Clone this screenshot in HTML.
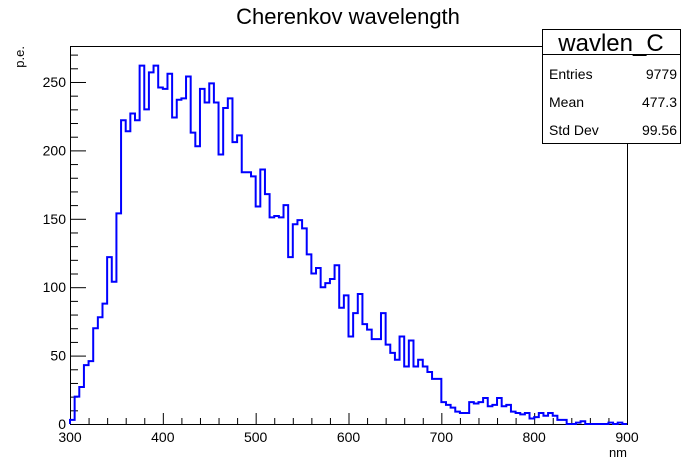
<!DOCTYPE html>
<html><head><meta charset="utf-8"><style>
body{margin:0;background:#fff;}
svg{display:block;font-family:"Liberation Sans",sans-serif;}
</style></head><body>
<svg id="chart" width="696" height="472">
<rect x="0" y="0" width="696" height="472" fill="#fff"/>
<text x="348" y="24" font-size="22" text-anchor="middle">Cherenkov wavelength</text>
<g id="axes"></g>
<path id="hist" fill="none" stroke="#0000ff" stroke-width="2"/>
<text x="627" y="457" font-size="13" text-anchor="end">nm</text>
<text transform="translate(24,46) rotate(-90)" font-size="13" text-anchor="end">p.e.</text>
<g>
<rect x="542.5" y="29.5" width="138" height="114" fill="#fff" stroke="#000"/>
<line x1="542.5" y1="54.5" x2="680.5" y2="54.5" stroke="#000"/>
<text x="611" y="51" font-size="24" text-anchor="middle">wavlen_C</text>
<text x="549" y="79" font-size="14">Entries</text>
<text x="677" y="79" font-size="14" text-anchor="end">9779</text>
<text x="549" y="107" font-size="14">Mean</text>
<text x="677" y="107" font-size="14" text-anchor="end">477.3</text>
<text x="549" y="135" font-size="14">Std Dev</text>
<text x="677" y="135" font-size="14" text-anchor="end">99.56</text>
</g>
</svg>
<script>
const binCounts = [3,20,27,43,46,70,78,88,122,104,154,222,214,227,222,262,230,257,262,246,245,256,224,237,238,254,213,203,245,235,
249,235,197,231,238,206,211,184,184,181,159,186,168,151,152,151,160,122,146,149,143,124,110,114,100,103,106,116,85,94,
64,81,95,73,69,62,62,81,58,52,47,64,42,61,42,47,42,38,33,33,16,14,12,9,8,8,16,15,16,19,
13,14,19,13,14,9,8,7,8,4,5,8,6,8,6,3,3,0,0,1,2,0,0,0,0,0,1,0,1,0];
const xTickLabels = ["300","400","500","600","700","800","900"];
const yTickLabels = ["0","50","100","150","200","250"];
const xMin = 300, xMax = 900, yMin = 0, yMax = 276.3;
const L = 70, R = 627, T = 46, B = 424;
const xs = v => L + (v - xMin) / (xMax - xMin) * (R - L);
const ys = v => B - (v - yMin) / (yMax - yMin) * (B - T);
const NS = "http://www.w3.org/2000/svg";
const axes = document.getElementById('axes');
function mk(tag, attrs){const e=document.createElementNS(NS,tag);for(const k in attrs)e.setAttribute(k,attrs[k]);return e;}
const frame = mk('rect',{x:L+0.5,y:T+0.5,width:R-L,height:B-T,fill:'none',stroke:'#000'});


axes.appendChild(frame);
for (let v = xMin; v <= xMax; v += 20) {
  const major = (v % 100) === 0;
  const t = mk('line',{x1:xs(v)+0.5,x2:xs(v)+0.5,y1:B,y2:B-(major?11:6),stroke:'#000'});
  
  
  axes.appendChild(t);
}
xTickLabels.forEach(s => {
  const t = mk('text',{x:xs(+s),y:B+18,'font-size':14,'text-anchor':'middle'});
  t.textContent = s;
  
  
  axes.appendChild(t);
});
for (let v = 0; v <= 270; v += 10) {
  const major = (v % 50) === 0;
  const t = mk('line',{x1:L,x2:L+(major?16:8),y1:ys(v)+0.5,y2:ys(v)+0.5,stroke:'#000'});
  
  
  axes.appendChild(t);
}
yTickLabels.forEach(s => {
  const t = mk('text',{x:L-4,y:ys(+s)+5,'font-size':14,'text-anchor':'end'});
  t.textContent = s;
  
  
  axes.appendChild(t);
});
const bw = (xMax - xMin) / binCounts.length;
let d = `M${xs(xMin)},${ys(0)}`;
binCounts.forEach((c,i) => {
  d += ` L${xs(xMin+i*bw)},${ys(c)} L${xs(xMin+(i+1)*bw)},${ys(c)}`;
});
d += ` L${xs(xMax)},${ys(0)}`;
document.getElementById('hist').setAttribute('d', d);
</script>
</body></html>
